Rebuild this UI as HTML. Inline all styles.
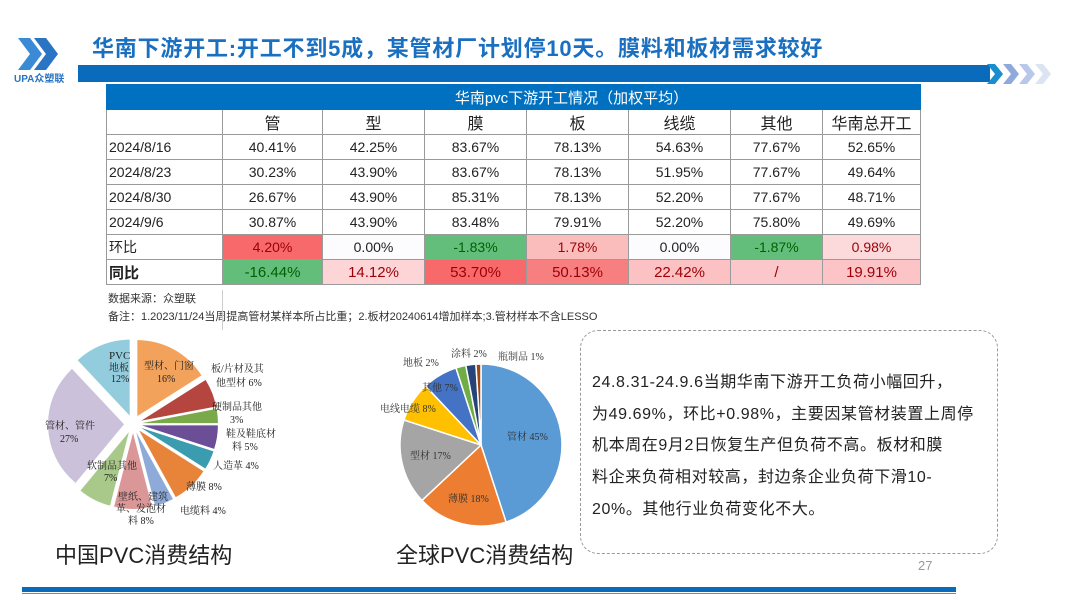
<!DOCTYPE html>
<html><head><meta charset="utf-8"><style>
*{margin:0;padding:0;box-sizing:border-box}
body{width:1080px;height:608px;background:#fff;position:relative;overflow:hidden;font-family:"Liberation Sans","Noto Sans CJK SC",sans-serif}
.abs{position:absolute}
table{border-collapse:collapse;position:absolute;left:106px;top:84px;font-size:14px;color:#222}
td{border:1px solid #9a9a9a;height:25px;text-align:center;padding:0;white-space:nowrap}
td.l{text-align:left;padding-left:2px}
.r{color:#9c0006}.g{color:#006100}
</style></head><body>
<svg class="abs" style="left:12px;top:34px" width="62" height="50">
<polygon points="6,4 18,4 30,20 18,36 6,36 18,20" fill="#3a8ad6"/>
<polygon points="22,4 34,4 46,20 34,36 22,36 34,20" fill="#2a74c4"/>
<text x="2" y="48" font-size="10" fill="#2a74c4" font-weight="bold" font-family="Liberation Sans,Noto Sans CJK SC,sans-serif">UPA众塑联</text>
</svg>
<div class="abs" style="left:92px;top:31px;font-size:22px;letter-spacing:0.8px;font-weight:bold;color:#1a6fc0;font-family:'Liberation Sans','Noto Sans CJK SC',sans-serif">华南下游开工:开工不到5成，某管材厂计划停10天。膜料和板材需求较好</div>
<div class="abs" style="left:78px;top:65px;width:912px;height:17px;background:#0a6bbd"></div>
<svg class="abs" style="left:985px;top:63px" width="70" height="22">
<polygon points="2,1 10,1 18,11 10,21 2,21 10,11" fill="#1a8ccf"/>
<polygon points="18,1 26,1 34,11 26,21 18,21 26,11" fill="#8fa9dc"/>
<polygon points="34,1 42,1 50,11 42,21 34,21 42,11" fill="#b9c8ea"/>
<polygon points="50,1 58,1 66,11 58,21 50,21 58,11" fill="#dce4f4"/>
</svg>
<table>
<tr style="background:#0070c0;color:#fff;height:24px"><td style="width:116px;border-color:#0070c0"></td><td colspan="7" style="font-size:15px;border-color:#0070c0;height:24px">华南pvc下游开工情况（加权平均）</td></tr>
<tr style="font-size:16px"><td style="width:116px"></td><td style="width:100px">管</td><td style="width:102px">型</td><td style="width:102px">膜</td><td style="width:102px">板</td><td style="width:102px">线缆</td><td style="width:92px">其他</td><td style="width:98px">华南总开工</td></tr>
<tr><td class="l">2024/8/16</td><td>40.41%</td><td>42.25%</td><td>83.67%</td><td>78.13%</td><td>54.63%</td><td>77.67%</td><td>52.65%</td></tr>
<tr><td class="l">2024/8/23</td><td>30.23%</td><td>43.90%</td><td>83.67%</td><td>78.13%</td><td>51.95%</td><td>77.67%</td><td>49.64%</td></tr>
<tr><td class="l">2024/8/30</td><td>26.67%</td><td>43.90%</td><td>85.31%</td><td>78.13%</td><td>52.20%</td><td>77.67%</td><td>48.71%</td></tr>
<tr><td class="l">2024/9/6</td><td>30.87%</td><td>43.90%</td><td>83.48%</td><td>79.91%</td><td>52.20%</td><td>75.80%</td><td>49.69%</td></tr>
<tr><td class="l">环比</td><td class="r" style="background:#f8696b">4.20%</td><td style="background:#fcfcff">0.00%</td><td class="g" style="background:#63be7b">-1.83%</td><td class="r" style="background:#fbbcbc">1.78%</td><td style="background:#fcfcff">0.00%</td><td class="g" style="background:#63be7b">-1.87%</td><td class="r" style="background:#fcd9db">0.98%</td></tr>
<tr style="font-size:15px"><td class="l" style="font-weight:bold">同比</td><td class="g" style="background:#63be7b">-16.44%</td><td class="r" style="background:#fdd5d7">14.12%</td><td class="r" style="background:#f8696b">53.70%</td><td class="r" style="background:#f87f80">50.13%</td><td class="r" style="background:#fbc1c3">22.42%</td><td class="r" style="background:#fcc7ca">/</td><td class="r" style="background:#fcc4c7">19.91%</td></tr>
</table>
<div class="abs" style="left:108px;top:290px;font-size:11px;color:#333">数据来源：众塑联</div>
<div class="abs" style="left:108px;top:308px;font-size:11px;color:#333">备注：1.2023/11/24当周提高管材某样本所占比重；2.板材20240614增加样本;3.管材样本不含LESSO</div>
<div class="abs" style="left:222px;top:290px;width:1px;height:40px;background:#ccc"></div>

<svg id="p" class="abs" style="left:0;top:0" width="1080" height="608" font-family="Liberation Serif,Noto Serif CJK SC,serif">
<g id="p1"></g><g id="p2"></g>
<g font-size="10" fill="#222">
<text x="109" y="359" font-size="11">PVC</text><text x="109" y="371">地板</text><text x="111" y="382">12%</text>
<text x="144" y="369">型材、门窗</text><text x="157" y="382">16%</text>
<text x="211" y="372">板/片材及其</text><text x="216" y="386">他型材 6%</text>
<text x="212" y="410">硬制品其他</text><text x="230" y="423">3%</text>
<text x="226" y="437">鞋及鞋底材</text><text x="232" y="450">料 5%</text>
<text x="213" y="469">人造革 4%</text>
<text x="186" y="490">薄膜 8%</text>
<text x="180" y="514">电缆料 4%</text>
<text x="118" y="500">壁纸、建筑</text><text x="116" y="512">革、发泡材</text><text x="128" y="524">料 8%</text>
<text x="87" y="469">软制品其他</text><text x="104" y="481">7%</text>
<text x="45" y="429">管材、管件</text><text x="60" y="442">27%</text>
</g>
<g font-size="10" fill="#333">
<text x="403" y="366">地板 2%</text><text x="451" y="357">涂料 2%</text><text x="498" y="360">瓶制品 1%</text>
<text x="422" y="391">其他 7%</text><text x="380" y="412">电线电缆 8%</text>
<text x="507" y="440">管材 45%</text><text x="410" y="459">型材 17%</text><text x="448" y="502">薄膜 18%</text>
</g>
</svg>

<div class="abs" style="left:55px;top:538px;font-size:22px;color:#222">中国PVC消费结构</div>
<div class="abs" style="left:396px;top:538px;font-size:22px;color:#222">全球PVC消费结构</div>
<div class="abs" style="left:580px;top:330px;width:418px;height:224px;border:1px dashed #999;border-radius:18px"></div>
<div class="abs" style="left:592px;top:367px;width:400px;font-size:16px;line-height:31.7px;color:#222;letter-spacing:0.6px;white-space:nowrap">24.8.31-24.9.6当期华南下游开工负荷小幅回升，<br>为49.69%，环比+0.98%，主要因某管材装置上周停<br>机本周在9月2日恢复生产但负荷不高。板材和膜<br>料企来负荷相对较高，封边条企业负荷下滑10-<br>20%。其他行业负荷变化不大。</div>
<div class="abs" style="left:918px;top:558px;font-size:13px;color:#999">27</div>
<div class="abs" style="left:22px;top:587px;width:934px;height:5px;background:#0a6bbd"></div>
<div class="abs" style="left:22px;top:593px;width:934px;height:1px;background:#5b8fc4"></div>
<script>
function pie(id,cx,cy,r,data,ex,stroke){
 var g=document.getElementById(id),a=0,s='';
 data.forEach(function(d){
  var a0=a*Math.PI*2/100,a1=(a+d[0])*Math.PI*2/100,m=(a0+a1)/2;
  var ox=ex*Math.sin(m),oy=-ex*Math.cos(m);
  var x0=cx+ox+r*Math.sin(a0),y0=cy+oy-r*Math.cos(a0),x1=cx+ox+r*Math.sin(a1),y1=cy+oy-r*Math.cos(a1);
  s+='<path d="M'+(cx+ox)+','+(cy+oy)+'L'+x0+','+y0+'A'+r+','+r+' 0 '+(d[0]>50?1:0)+' 1 '+x1+','+y1+'Z" fill="'+d[1]+'" stroke="'+stroke+'" stroke-width="1.5"/>';
  a+=d[0];});
 g.innerHTML=s;}
pie('p1',133,424,76,[[16,'#f3a25c'],[6,'#b5453f'],[3,'#7aa94a'],[5,'#6b4e96'],[4,'#3b9cb0'],[8,'#e8843a'],[4,'#8eaad8'],[8,'#db9797'],[7,'#a9c98a'],[27,'#ccc1da'],[12,'#93cddd']],9,'none');
pie('p2',481,445,81,[[45,'#5b9bd5'],[18,'#ed7d31'],[17,'#a5a5a5'],[8,'#ffc000'],[7,'#4472c4'],[2,'#70ad47'],[2,'#264478'],[1,'#9e480e']],0,'#fff');
</script>
</body></html>
